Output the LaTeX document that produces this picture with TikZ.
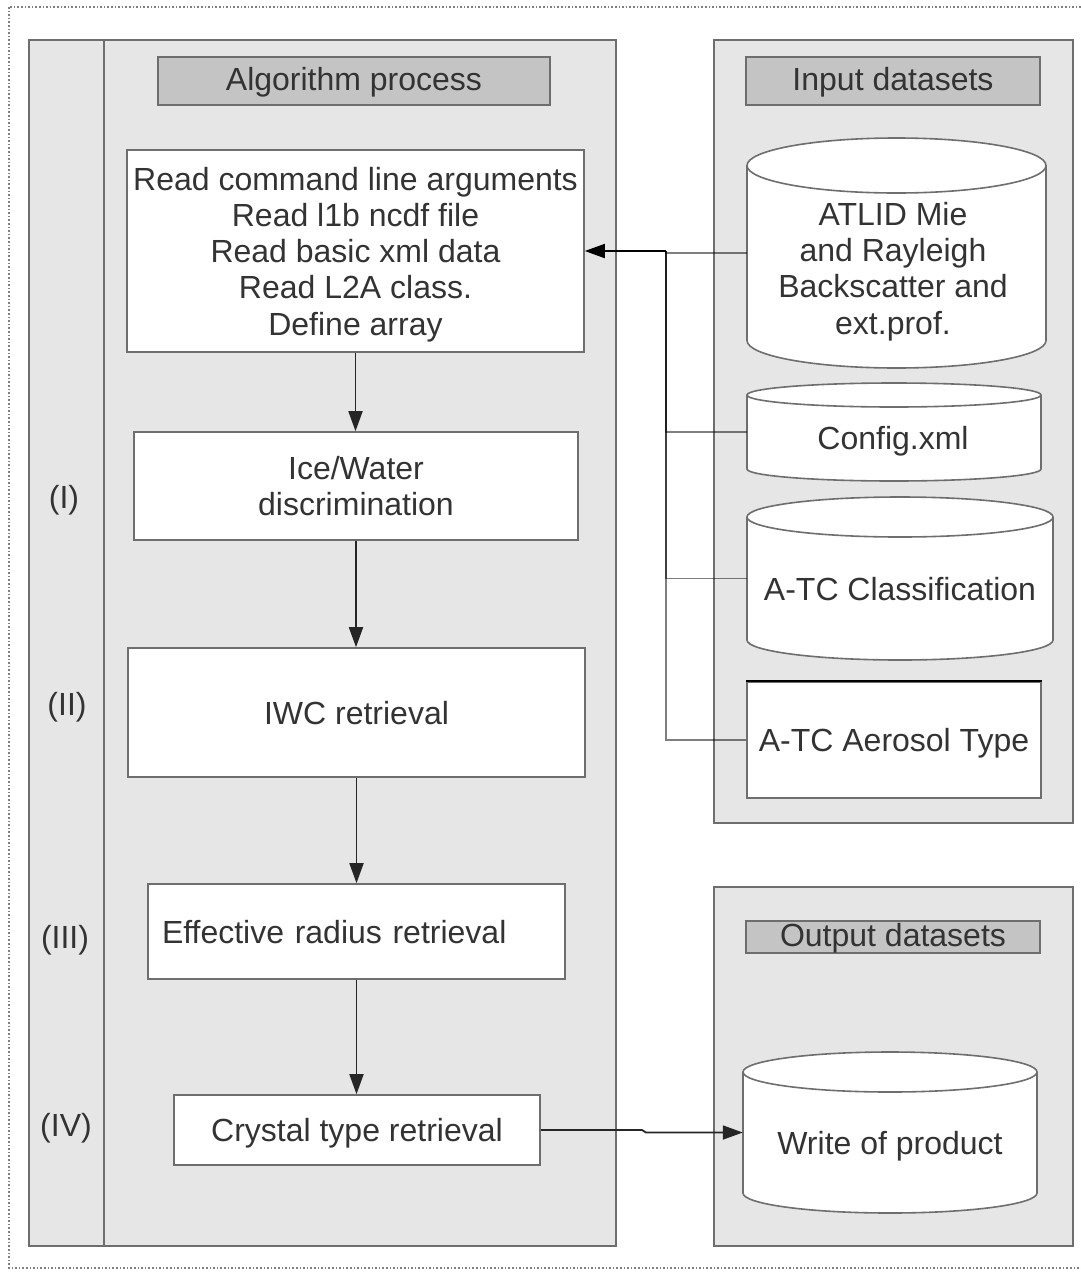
\documentclass[tikz,border=0pt]{standalone}
\usepackage{fontspec}
\setmainfont{Liberation Sans}
\usetikzlibrary{arrows.meta,calc}
\definecolor{txtc}{HTML}{333333}
\definecolor{panelfill}{HTML}{E6E6E6}
\definecolor{headfill}{HTML}{C4C4C4}
\definecolor{strokec}{HTML}{6E6E6E}
% cylinders: x1, x2, ytop, ybot, ry
\newcommand{\dbcyl}[5]{%
  \pgfmathsetmacro{\rxv}{(#2-#1)/2}%
  \draw[cylpath] (#1,-#3-#5) -- (#1,-#4+#5)
     arc[start angle=180,end angle=360,x radius=\rxv,y radius=#5]
     -- (#2,-#3-#5)
     arc[start angle=0,end angle=180,x radius=\rxv,y radius=#5] -- cycle;
  \draw[strokec,line width=1.6pt] (#1,-#3-#5)
     arc[start angle=180,end angle=360,x radius=\rxv,y radius=#5];
}
\begin{document}
\begin{tikzpicture}[x=1pt,y=1pt,
  every node/.style={text=txtc,font=\fontsize{32}{36.3}\selectfont,text depth=0pt},
  panel/.style={draw=strokec,fill=panelfill,line width=1.6pt},
  head/.style={draw=strokec,fill=headfill,line width=1.6pt,inner sep=0pt,text depth=3.4pt},
  procbox/.style={draw=strokec,fill=white,line width=1.6pt,inner sep=0pt,align=center},
  frame/.style={inner sep=0pt,draw=none},
  cylpath/.style={draw=strokec,fill=white,line width=1.6pt},
  txt/.style={align=center,inner sep=0pt},
  flow/.style={draw=black!85,line width=1.8pt,-{Triangle[length=20pt,width=14pt]}},
  feed/.style={draw=black,draw opacity=0.5,line width=1.5pt},
  feedarr/.style={draw=black,line width=1.8pt,-{Triangle[length=20pt,width=14pt]}}
]
\useasboundingbox (0,0) rectangle (1080,-1275);
% outer dotted border
\draw[gray,dotted,line width=1.6pt] (9,-7) rectangle (1084,-1268);

% panels
\draw[panel] (29,-40) rectangle (616,-1246);
\draw[strokec,line width=1.6pt] (104,-40) -- (104,-1246);
\draw[panel] (714,-40) rectangle (1073,-823);
\draw[panel] (714,-887) rectangle (1073,-1246);

% headers
\node[head,minimum width=392,minimum height=48] (hAlg) at (354,-81) {Algorithm process};
\node[head,minimum width=294,minimum height=48] (hIn) at (893,-81) {Input datasets};
\node[head,minimum width=294,minimum height=32] (hOut) at (893,-937) {Output datasets};

% step labels
\node (l1) at (64,-497) {(I)};
\node (l2) at (67,-704) {(II)};
\node (l3) at (65,-937) {(III)};
\node (l4) at (66,-1125) {(IV)};

% process boxes
\node[procbox,minimum width=457,minimum height=202] (b1) at (355.5,-251)
  {Read command line arguments\\Read l1b ncdf file\\Read basic xml data\\Read L2A class.\\Define array};
\node[procbox,minimum width=444,minimum height=108] (b2) at (356,-486)
  {Ice/Water\\discrimination};
\node[procbox,minimum width=457,minimum height=129] (b3) at (356.5,-712.5)
  {IWC retrieval};
\node[procbox,minimum width=417,minimum height=95,align=left,text width=389,inner xsep=14pt] (b4) at (356.5,-931.5)
  {Effective radius retrieval};
\node[procbox,minimum width=366,minimum height=70] (b5) at (357,-1130)
  {Crystal type retrieval};

% flow arrows
\draw[flow] (b1.south) -- (b1.south |- b2.north);
\draw[flow] (b2.south) -- (b2.south |- b3.north);
\draw[flow] (b3.south) -- (b3.south |- b4.north);
\draw[flow] (b4.south) -- (b4.south |- b5.north);

% data stores
\dbcyl{747}{1046}{138}{368}{27.5}
\node[frame,minimum width=299,minimum height=230] (atlid) at (896.5,-253) {};
\node[txt] (atlidT) at (893,-268) {ATLID Mie\\and Rayleigh\\Backscatter and\\ext.prof.};

\dbcyl{747}{1041}{383}{481}{12}
\node[frame,minimum width=294,minimum height=98] (cfg) at (894,-432) {};
\node[txt] (cfgT) at (893,-438) {Config.xml};

\dbcyl{747}{1053}{497}{660}{20}
\node[frame,minimum width=306,minimum height=163] (cls) at (900,-578.5) {};
\node[txt] (clsT) at (900,-589) {A-TC Classification};

\node[procbox,minimum width=294,minimum height=116] (aer) at (894,-740) {A-TC Aerosol Type};
\draw[black,line width=1.8pt] (aer.north west) -- (aer.north east);

\dbcyl{743}{1037}{1052}{1213}{20}
\node[frame,minimum width=294,minimum height=161] (wr) at (890,-1132.5) {};
\node[txt] (wrT) at (890,-1143) {Write of product};

% input connectors
\coordinate (jn) at (666,-251);
\draw[feed] (atlid.west) -| (jn);
\draw[feed] (cfg.west) -| (jn);
\draw[feed] (cls.west) -| (jn);
\draw[feed] (aer.west) -| (jn);
\draw[feedarr] (jn) -- (b1.east |- jn);

% output connector
\coordinate (jog) at (642,-1130);
\draw[flow] (b5.east) -- (jog) -- ([xshift=4pt]jog |- wr.west) -- (wr.west);
\end{tikzpicture}
\end{document}
